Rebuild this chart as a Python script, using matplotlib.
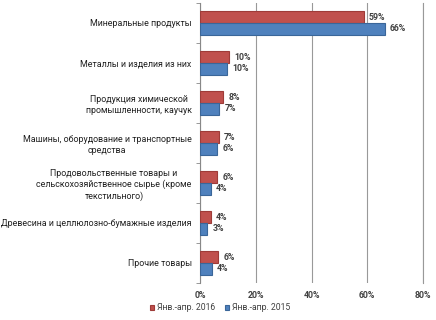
import matplotlib.pyplot as plt
import numpy as np

categories = ['Минеральные продукты',
              'Металлы и изделия из них',
              'Продукция химической\nпромышленности, каучук',
              'Машины, оборудование и транспортные\nсредства',
              'Продовольственные товары и\nсельскохозяйственное сырье (кроме\nтекстильного)',
              'Древесина и целлюлозно-бумажные изделия',
              'Прочие товары']
share_2016 = [58.8, 10.4, 8.4, 6.8, 6.2, 3.8, 6.5]
share_2015 = [66.4, 9.8, 6.9, 6.2, 3.9, 2.6, 4.2]
labels_2016 = ['59%', '10%', '8%', '7%', '6%', '4%', '6%']
labels_2015 = ['66%', '10%', '7%', '6%', '4%', '3%', '4%']
xticks = [0, 20, 40, 60, 80]
series_names = ['Янв.-апр. 2016', 'Янв.-апр. 2015']

plt.rcParams['font.family'] = ['Roboto', 'DejaVu Sans']

fig = plt.figure(figsize=(4.36, 3.2), dpi=100)
ax = fig.add_axes([200 / 436, 1 - 283 / 320, 223 / 436, 280 / 320])

y = np.arange(len(categories))
h = 0.29
red, red_edge = '#C0504D', '#9E3B38'
blue, blue_edge = '#4F81BD', '#3A6699'
ax.barh(y - h / 2, share_2016, height=h, color=red, edgecolor=red_edge, linewidth=0.8,
        label=series_names[0], zorder=3)
ax.barh(y + h / 2, share_2015, height=h, color=blue, edgecolor=blue_edge, linewidth=0.8,
        label=series_names[1], zorder=3)

for i in range(len(categories)):
    ax.text(share_2016[i] + 1.8, y[i] - h / 2, labels_2016[i], va='center', ha='left',
            fontsize=6.3, fontweight='bold', color='#404040')
    ax.text(share_2015[i] + 1.8, y[i] + h / 2, labels_2015[i], va='center', ha='left',
            fontsize=6.3, fontweight='bold', color='#404040')

ax.set_xlim(0, 80)
ax.set_ylim(len(categories) - 0.5, -0.5)
ax.set_xticks(xticks)
ax.set_xticklabels([f'{t}%' for t in xticks], fontsize=6.3, fontweight='bold', color='#404040')
ax.set_yticks(y)
ax.set_yticklabels(categories, fontsize=6.4, color='#202020', ha='right',
                   multialignment='center', linespacing=1.25)
ax.tick_params(axis='y', length=0, pad=6)
ax.tick_params(axis='x', length=0, pad=6)
ax.set_yticks(np.arange(-0.5, len(categories)), minor=True)
ax.tick_params(axis='y', which='minor', length=3, color='#888888')

ax.grid(axis='x', color='#999999', linewidth=0.8, zorder=0)
for s in ['top', 'bottom']:
    ax.spines[s].set_visible(False)
ax.spines['left'].set_color('#888888')
ax.spines['right'].set_color('#999999')
ax.spines['right'].set_linewidth(0.8)

fig.legend(loc='lower center', bbox_to_anchor=(220 / 436, 0.0), ncol=2, frameon=False,
           fontsize=6.2, handlelength=0.5, handleheight=0.5, handletextpad=0.3,
           columnspacing=1.2, labelcolor='#404040')

fig.savefig('out.png', dpi=100)
